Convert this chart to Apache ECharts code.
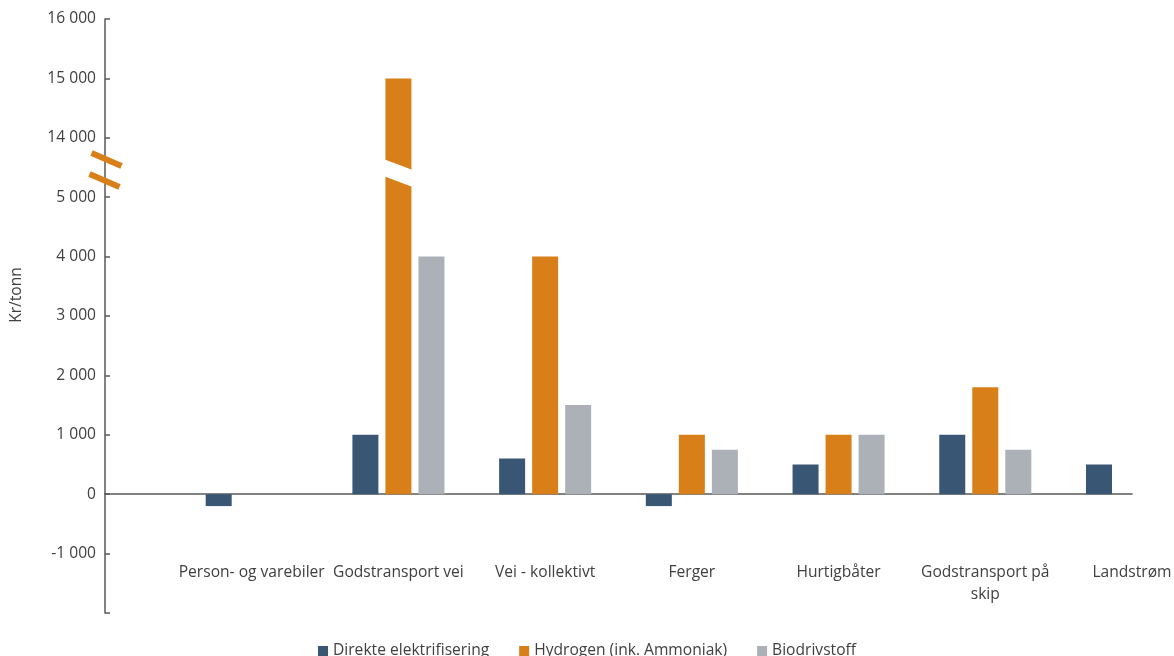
<!DOCTYPE html>
<html>
<head>
<meta charset="utf-8">
<script src="https://cdn.jsdelivr.net/npm/echarts@6/dist/echarts.min.js"></script>
<style>
  html, body { margin: 0; padding: 0; background: #ffffff; }
  #chart { width: 1174px; height: 656px; }
</style>
</head>
<body>
<div id="chart"></div>
<script>
// Kostnad per tonn redusert utslipp, per transportsegment og tiltak
const categories = ['Person- og varebiler', 'Godstransport vei', 'Vei - kollektivt', 'Ferger', 'Hurtigbåter', 'Godstransport på skip', 'Landstrøm'];
const seriesNames = ['Direkte elektrifisering', 'Hydrogen (ink. Ammoniak)', 'Biodrivstoff'];
const direkteElektrifisering = [-200, 1000, 600, -200, 500, 1000, 500];
const hydrogen = [null, 15000, 4000, 1000, 1000, 1800, null];
const biodrivstoff = [null, 4000, 1500, 750, 1000, 750, null];
const yTickLabels = [-1000, 0, 1000, 2000, 3000, 4000, 5000, 14000, 15000, 16000];

const colors = ['#3a5675', '#d97f1a', '#abb1b7'];
const textColor = '#404040';
const axisColor = '#595959';
const fontFamily = '"Open Sans", "Noto Sans", sans-serif';
const fontSize = 15.6;

// Broken value axis: everything between 5 000 and 14 000 is squeezed into one step
const BREAK_LOW = 5000;
const BREAK_HIGH = 14000;
const STEP = 1000;
const SHIFT = BREAK_HIGH - BREAK_LOW - STEP;
const toAxis = v => (v == null ? null : (v >= BREAK_HIGH ? v - SHIFT : v));
const fromAxis = d => (d > BREAK_LOW ? d + SHIFT : d);

const fmt = v => {
  const s = String(Math.abs(v)).replace(/\B(?=(\d{3})+(?!\d))/g, ' ');
  return (v < 0 ? '-' : '') + s;
};

// leading empty slot so the groups sit on the tick positions, one step in from the value axis
const axisCategories = [''].concat(categories);
const pad = arr => [null].concat(arr.map(toAxis));
const seriesValues = [direkteElektrifisering, hydrogen, biodrivstoff];

const chart = echarts.init(document.getElementById('chart'), null, { renderer: 'canvas' });

const option = {
  animation: false,
  backgroundColor: '#ffffff',
  textStyle: { fontFamily: fontFamily },
  grid: { left: 105, right: 42, top: 19, bottom: 43, containLabel: false, outerBoundsMode: 'none' },
  legend: {
    top: 638,
    left: 'center',
    itemWidth: 10,
    itemHeight: 10,
    itemGap: 30,
    icon: 'rect',
    textStyle: { color: textColor, fontSize: fontSize, fontFamily: fontFamily },
    data: seriesNames
  },
  xAxis: [
    {
      type: 'category',
      data: axisCategories,
      boundaryGap: false,
      axisLine: { onZero: true, lineStyle: { color: axisColor, width: 1.5 } },
      axisTick: { show: false },
      axisLabel: { show: false },
      splitLine: { show: false }
    },
    {
      type: 'category',
      data: axisCategories,
      boundaryGap: false,
      position: 'bottom',
      offset: -51,
      axisLine: { show: false, onZero: false },
      axisTick: { show: false },
      axisLabel: {
        interval: 0,
        margin: 0,
        color: textColor,
        fontSize: fontSize,
        lineHeight: 22,
        fontFamily: fontFamily,
        formatter: v => v.replace('på skip', 'på\nskip')
      },
      splitLine: { show: false }
    }
  ],
  yAxis: {
    type: 'value',
    min: -2000,
    max: toAxis(16000),
    interval: STEP,
    name: 'Kr/tonn',
    nameLocation: 'middle',
    nameGap: 80,
    nameRotate: 90,
    nameTextStyle: { color: textColor, fontSize: fontSize, fontFamily: fontFamily, padding: [0, 0, 0, 42] },
    axisLine: { show: true, lineStyle: { color: axisColor, width: 1.5 } },
    axisTick: { show: true, inside: true, length: 5, lineStyle: { color: axisColor, width: 1.5 } },
    axisLabel: {
      color: textColor,
      fontSize: fontSize,
      margin: 9,
      fontFamily: fontFamily,
      formatter: d => {
        const v = fromAxis(d);
        return yTickLabels.indexOf(v) >= 0 ? fmt(v) : '';
      }
    },
    splitLine: { show: false }
  },
  series: seriesNames.map((name, i) => ({
    name: name,
    type: 'bar',
    xAxisIndex: 0,
    barWidth: 26,
    barGap: '27%',
    itemStyle: { color: colors[i] },
    data: pad(seriesValues[i])
  }))
};

chart.setOption(option);

// Break markers: double slash on the value axis and a cut through any bar above the break
function drawBreaks() {
  const yBreak = chart.convertToPixel({ yAxisIndex: 0 }, BREAK_LOW + STEP / 2);
  const axisX = chart.convertToPixel({ xAxisIndex: 0 }, 0);
  const elements = [];
  const slash = (cx, cy) => ({
    type: 'line',
    z: 100,
    shape: { x1: cx - 15, y1: cy - 6.5, x2: cx + 15, y2: cy + 6.5 },
    style: { stroke: colors[1], lineWidth: 6, lineCap: 'butt' }
  });
  elements.push(slash(axisX + 1.5, yBreak - 8));
  elements.push(slash(axisX - 0.5, yBreak + 13));

  seriesValues.forEach((vals, si) => {
    const data = chart.getModel().getSeriesByIndex(si).getData();
    vals.forEach((v, ci) => {
      if (v != null && v >= BREAK_HIGH) {
        const lay = data.getItemLayout(ci + 1);
        const x0 = lay.x - 2;
        const x1 = lay.x + lay.width + 2;
        const cy = yBreak + 5.5;
        const half = 8.5;
        const tilt = (x1 - x0) * 0.375 / 2;
        elements.push({
          type: 'polygon',
          z: 100,
          shape: {
            points: [
              [x0, cy - half - tilt],
              [x1, cy - half + tilt],
              [x1, cy + half + tilt],
              [x0, cy + half - tilt]
            ]
          },
          style: { fill: '#ffffff' }
        });
      }
    });
  });
  chart.setOption({ graphic: elements });
}
drawBreaks();
</script>
</body>
</html>
